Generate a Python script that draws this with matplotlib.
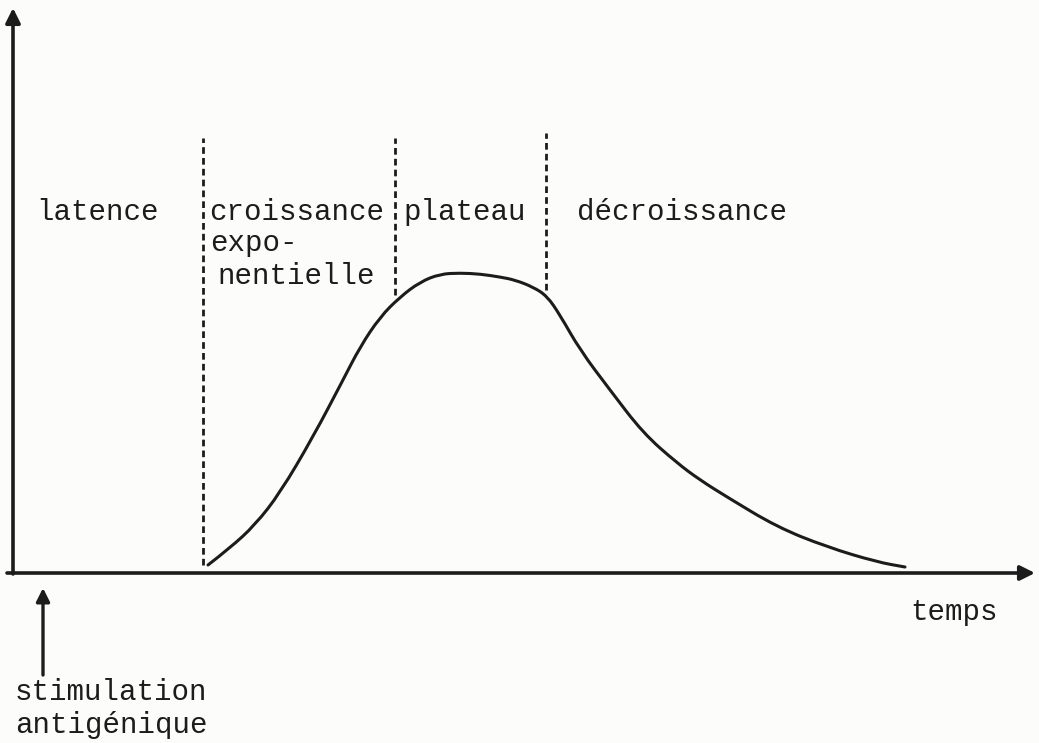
import numpy as np
import matplotlib.pyplot as plt
from matplotlib.path import Path
from matplotlib.patches import PathPatch

# response curve (time, level)
t = [196, 218, 243, 268, 301, 331, 348, 368, 388, 408, 428, 448, 468, 488,
     503, 521, 535, 548, 568, 598, 631, 665, 688, 715, 765, 815, 865, 893]
level = [8, 25, 48, 80, 136, 193, 226, 256, 276, 291, 299, 300, 299, 296,
         293, 286, 277, 258, 223, 183, 140, 110, 93, 76, 46, 26, 11, 6]

# phase boundaries: (time, bottom, top)
bounds = [(191, 8, 435), (383, 278, 435), (534, 283, 440)]

phase_labels = ["latence", "croissance", "plateau", "décroissance"]
phase_x = [24, 197, 391, 565]

ink = "#1c1c1c"
font = dict(family="Liberation Mono", size=21, color=ink)

fig = plt.figure(figsize=(10.39, 7.43), dpi=100, facecolor="#fcfcfa")
ax = fig.add_axes([0, 0, 1, 1])
ax.set_facecolor("#fcfcfa")
ax.set_xlim(-12, 1027)
ax.set_ylim(-170, 573)
ax.axis("off")

# axes with arrowheads
arrow = dict(arrowstyle="-|>", color=ink, lw=2.6, mutation_scale=22,
             shrinkA=0, shrinkB=0)
ax.annotate("", xy=(1, 565), xytext=(1, -1), arrowprops=arrow)
ax.annotate("", xy=(1023, 0), xytext=(-5, 0), arrowprops=arrow)

# stimulation arrow
small = dict(arrowstyle="-|>", color=ink, lw=2.4, mutation_scale=20,
             shrinkA=0, shrinkB=0)
ax.annotate("", xy=(31, -15), xytext=(31, -102), arrowprops=small)

# dashed phase boundaries
for x, y0, y1 in bounds:
    ax.plot([x, x], [y0, y1], color=ink, lw=2.0, ls=(0, (2.4, 1.5)))

# smooth curve: quadratic beziers through the midpoints of the read points
pts = np.column_stack([t, level]).astype(float)
verts = [pts[0]]
codes = [Path.MOVETO]
for i in range(1, len(pts) - 1):
    verts += [pts[i], (pts[i] + pts[i + 1]) / 2]
    codes += [Path.CURVE3, Path.CURVE3]
verts.append(pts[-1])
codes.append(Path.LINETO)
ax.add_patch(PathPatch(Path(verts, codes), fill=False, edgecolor=ink,
                       lw=2.2, capstyle="round"))

for lab, x in zip(phase_labels, phase_x):
    ax.text(x, 353, lab, va="baseline", ha="left", **font)
ax.text(198, 322, "expo-", va="baseline", ha="left", **font)
ax.text(205, 289, "nentielle", va="baseline", ha="left", **font)

ax.text(898, -47, "temps", va="baseline", ha="left", **font)
ax.text(3, -127, "stimulation", va="baseline", ha="left", **font)
ax.text(3, -160, "antigénique", va="baseline", ha="left", **font)

fig.savefig("out.png", dpi=100, facecolor=fig.get_facecolor())
